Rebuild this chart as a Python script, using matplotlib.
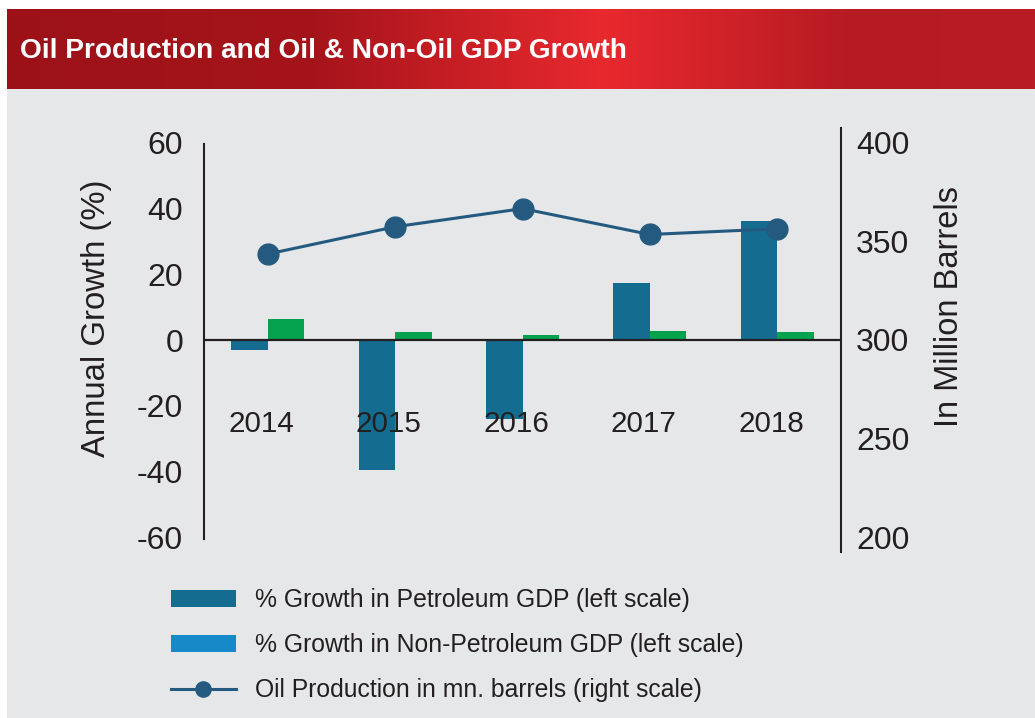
import numpy as np
import matplotlib
matplotlib.use("Agg")
import matplotlib.pyplot as plt
from matplotlib.colors import LinearSegmentedColormap
from matplotlib.patches import Rectangle, Patch
from matplotlib.lines import Line2D

# ----------------------------------------------------
# DATA

years = ["2014", "2015", "2016", "2017", "2018"]
petroleum_gdp = [-3.1, -39.5, -23.9, 17.4, 36.3]   # % growth, left scale
non_petroleum_gdp = [6.3, 2.4, 1.4, 2.8, 2.4]      # % growth, left scale
oil_production = [343.5, 357.3, 366.5, 353.4, 356.3]  # mn. barrels, right scale

left_ticks = [-60, -40, -20, 0, 20, 40, 60]
right_ticks = [200, 250, 300, 350, 400]

title = "Oil Production and Oil & Non-Oil GDP Growth"
legend_labels = ["% Growth in Petroleum GDP (left scale)",
                 "% Growth in Non-Petroleum GDP (left scale)",
                 "Oil Production in mn. barrels (right scale)"]

# ----------------------------------------------------
# STYLE

BG = "#e6e7e8"
TXT = "#231f20"
C_PET = "#146d90"
C_NON = "#03a24e"
C_NON_LEG = "#168ac8"
C_LINE = "#245a80"
plt.rcParams['font.family'] = ['Liberation Sans', 'DejaVu Sans']

W, H = 1035, 718
fig = plt.figure(figsize=(W / 100, H / 100), dpi=100, facecolor="white")

# grey panel + red header band
fig.patches.append(Rectangle((7 / W, 0), 1 - 7 / W, (H - 89) / H,
                             transform=fig.transFigure, facecolor=BG,
                             edgecolor="none", zorder=-10))
hdr = fig.add_axes([7 / W, (H - 89) / H, 1 - 7 / W, 80 / H])
cmap = LinearSegmentedColormap.from_list(
    "hdr", [(0.0, "#9c1118"), (0.3, "#a6141b"), (0.58, "#e8292e"),
            (0.82, "#b71b22"), (1.0, "#b91c22")])
hdr.imshow(np.linspace(0, 1, 512)[None, :], aspect="auto", cmap=cmap,
           extent=[0, 1, 0, 1])
hdr.axis("off")
fig.text(20 / W, (H - 58) / H, title, color="white", fontsize=20.2,
         fontweight="bold", va="baseline", ha="left")

# ----------------------------------------------------
# MAIN AXES

ax = fig.add_axes([204 / W, (H - 552) / H, (841 - 204) / W, 424 / H])
ax.set_facecolor("none")
x = np.arange(len(years))
bw = 0.286
ax.bar(x - bw / 2, petroleum_gdp, bw, color=C_PET, zorder=2)
ax.bar(x + bw / 2, non_petroleum_gdp, bw, color=C_NON, zorder=2)
ax.axhline(0, color=TXT, lw=1.6, zorder=3)

ax.set_xlim(-0.5, len(years) - 0.5)
ax.set_ylim(-64.4, 64.4)
ax.set_yticks(left_ticks)
ax.set_yticklabels([str(t) for t in left_ticks])
ax.tick_params(axis="y", length=0, pad=15, labelsize=23, colors=TXT)
ax.set_xticks([])
for s in ["top", "bottom", "right"]:
    ax.spines[s].set_visible(False)
ax.spines["left"].set_color(TXT)
ax.spines["left"].set_linewidth(1.5)
ax.spines["left"].set_bounds(-60.6, 59.4)

# year labels sit inside the plot, below the zero line
for xi, yr in zip(x, years):
    ax.text(xi - 0.05, -25.5, yr, ha="center", va="center", fontsize=21.3,
            color=TXT, zorder=4)

ax2 = ax.twinx()
ax2.plot(x, oil_production, color=C_LINE, lw=2.2, marker="o",
         markersize=15, zorder=5)
ax2.set_ylim(192.7, 407.3)
ax2.set_yticks(right_ticks)
ax2.tick_params(axis="y", length=0, pad=11, labelsize=23, colors=TXT)
for s in ["top", "bottom", "left"]:
    ax2.spines[s].set_visible(False)
ax2.spines["right"].set_color(TXT)
ax2.spines["right"].set_linewidth(1.5)

# axis titles
fig.text(97 / W, (H - 318) / H, "Annual Growth (%)", rotation=90,
         ha="center", va="center", fontsize=23.7, color=TXT)
fig.text(950 / W, (H - 307) / H, "In Million Barrels", rotation=90,
         ha="center", va="center", fontsize=23.5, color=TXT)

# ----------------------------------------------------
# LEGEND

handles = [Patch(facecolor=C_PET, edgecolor="none"),
           Patch(facecolor=C_NON_LEG, edgecolor="none"),
           Line2D([0], [0], color=C_LINE, lw=2.2, marker="o", markersize=11)]
leg = fig.legend(handles, legend_labels, loc="upper left",
                 bbox_to_anchor=(149 / W, (H - 566) / H), frameon=False,
                 fontsize=17.8, handlelength=2.6, handleheight=0.65,
                 labelspacing=0.85, handletextpad=0.8, labelcolor=TXT)

fig.savefig("out.png", dpi=100, facecolor="white")
